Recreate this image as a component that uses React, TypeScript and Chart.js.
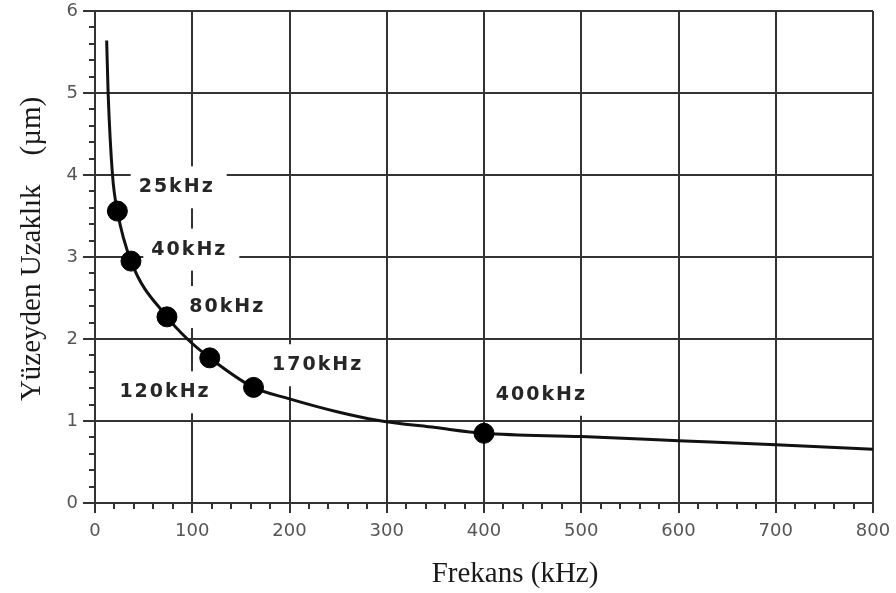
import { useEffect, useRef } from 'react';
import { Chart, registerables } from 'chart.js';

Chart.register(...registerables);

// Curve: depth from surface (µm) vs frequency (kHz)
const curveFreq = [12, 13.5, 18, 23, 37, 74, 95, 118, 163, 200, 250, 290, 350, 400, 500, 600, 700, 800];
const curveDepth = [5.64, 5.0, 4.0, 3.56, 2.95, 2.27, 2.0, 1.77, 1.41, 1.27, 1.11, 1.01, 0.92, 0.85, 0.81, 0.76, 0.71, 0.655];

// Marked points
const markerFreq = [23, 37, 74, 118, 163, 400];
const markerDepth = [3.56, 2.95, 2.27, 1.77, 1.41, 0.85];

// Point labels and their anchors (data units)
const labelText = ['25kHz', '40kHz', '80kHz', '120kHz', '170kHz', '400kHz'];
const labelFreq = [84, 97, 136, 72, 229, 459];
const labelDepth = [3.85, 3.09, 2.39, 1.35, 1.68, 1.32];

const xTitle = 'Frekans (kHz)';
const yTitle = 'Yüzeyden Uzaklık    (µm)';

const GRID = '#333333';
const LABEL_FONT = 'bold 19px "DejaVu Sans"';

const overlay = {
  id: 'overlay',
  beforeDatasetsDraw(chart: any) {
    const { ctx, scales } = chart;
    const x = scales.x, y = scales.y;
    ctx.save();
    ctx.font = LABEL_FONT;
    (ctx as any).letterSpacing = '2px';
    ctx.fillStyle = '#ffffff';
    labelText.forEach((t, i) => {
      const cx = x.getPixelForValue(labelFreq[i]);
      const cy = y.getPixelForValue(labelDepth[i]);
      const w = ctx.measureText(t).width;
      ctx.fillRect(cx - w / 2 - 8, cy - 21, w + 20, 42);
    });
    ctx.restore();
  },
  afterDatasetsDraw(chart: any) {
    const { ctx, scales } = chart;
    const x = scales.x, y = scales.y;
    ctx.save();
    ctx.font = LABEL_FONT;
    (ctx as any).letterSpacing = '2px';
    ctx.fillStyle = '#262626';
    ctx.textAlign = 'center';
    ctx.textBaseline = 'middle';
    labelText.forEach((t, i) => {
      ctx.fillText(t, x.getPixelForValue(labelFreq[i]), y.getPixelForValue(labelDepth[i]));
    });
    ctx.restore();
  },
  afterDraw(chart: any) {
    const { ctx, scales, chartArea } = chart;
    const x = scales.x, y = scales.y;
    ctx.save();
    ctx.strokeStyle = GRID;
    ctx.lineWidth = 2;
    ctx.beginPath();
    for (let v = 0; v <= 800; v += 20) {
      if (v % 100 === 0) continue;
      const px = Math.round(x.getPixelForValue(v));
      ctx.moveTo(px, chartArea.bottom);
      ctx.lineTo(px, chartArea.bottom + 6);
    }
    for (let k = 0; k <= 30; k++) {
      if (k % 5 === 0) continue;
      const py = Math.round(y.getPixelForValue(k / 5));
      ctx.moveTo(chartArea.left - 6, py);
      ctx.lineTo(chartArea.left, py);
    }
    ctx.stroke();

    // axis titles
    ctx.fillStyle = '#1a1a1a';
    ctx.font = '29px "Liberation Serif"';
    ctx.textAlign = 'center';
    ctx.textBaseline = 'alphabetic';
    ctx.fillText(xTitle, 515, 582);
    ctx.translate(40, 249);
    ctx.rotate(-Math.PI / 2);
    ctx.fillText(yTitle, 0, 0);
    ctx.restore();
  },
};

export default function App() {
  const ref = useRef<HTMLCanvasElement>(null);
  useEffect(() => {
    document.body.style.margin = '0';
    const canvas = ref.current!;
    const chart = new Chart(canvas, {
      type: 'line',
      data: {
        datasets: [
          {
            type: 'scatter',
            data: markerFreq.map((f, i) => ({ x: f, y: markerDepth[i] })),
            backgroundColor: '#000000',
            borderColor: '#000000',
            pointRadius: 10,
            pointHoverRadius: 10,
            showLine: false,
            order: 0,
          } as any,
          {
            type: 'line',
            data: curveFreq.map((f, i) => ({ x: f, y: curveDepth[i] })),
            borderColor: '#111111',
            borderWidth: 3,
            pointRadius: 0,
            cubicInterpolationMode: 'monotone',
            fill: false,
            order: 1,
          } as any,
        ],
      },
      options: {
        responsive: false,
        animation: false,
        devicePixelRatio: 1,
        layout: { padding: { left: 0, right: 23, top: 11, bottom: 0 } },
        plugins: { legend: { display: false }, tooltip: { enabled: false } },
        scales: {
          x: {
            type: 'linear',
            min: 0,
            max: 800,
            afterFit: (s: any) => { s.height = 90; s.paddingLeft = 0; s.paddingRight = 0; },
            ticks: {
              stepSize: 100,
              color: '#555555',
              font: { family: 'DejaVu Sans', size: 18 },
              padding: 8,
              maxRotation: 0,
            },
            grid: { color: GRID, lineWidth: 2, tickLength: 10, tickColor: GRID },
            border: { color: GRID, width: 2 },
          },
          y: {
            type: 'linear',
            min: 0,
            max: 6,
            afterFit: (s: any) => { s.width = 95; s.paddingTop = 0; s.paddingBottom = 0; },
            ticks: {
              stepSize: 1,
              color: '#555555',
              font: { family: 'DejaVu Sans', size: 18 },
              padding: 5,
            },
            grid: { color: GRID, lineWidth: 2, tickLength: 12, tickColor: GRID },
            border: { color: GRID, width: 2 },
          },
        },
      },
      plugins: [overlay],
    });
    return () => chart.destroy();
  }, []);
  return (
    <div style={{ width: 896, height: 593 }}>
      <canvas ref={ref} width={896} height={593} style={{ display: 'block', width: 896, height: 593 }} />
    </div>
  );
}
